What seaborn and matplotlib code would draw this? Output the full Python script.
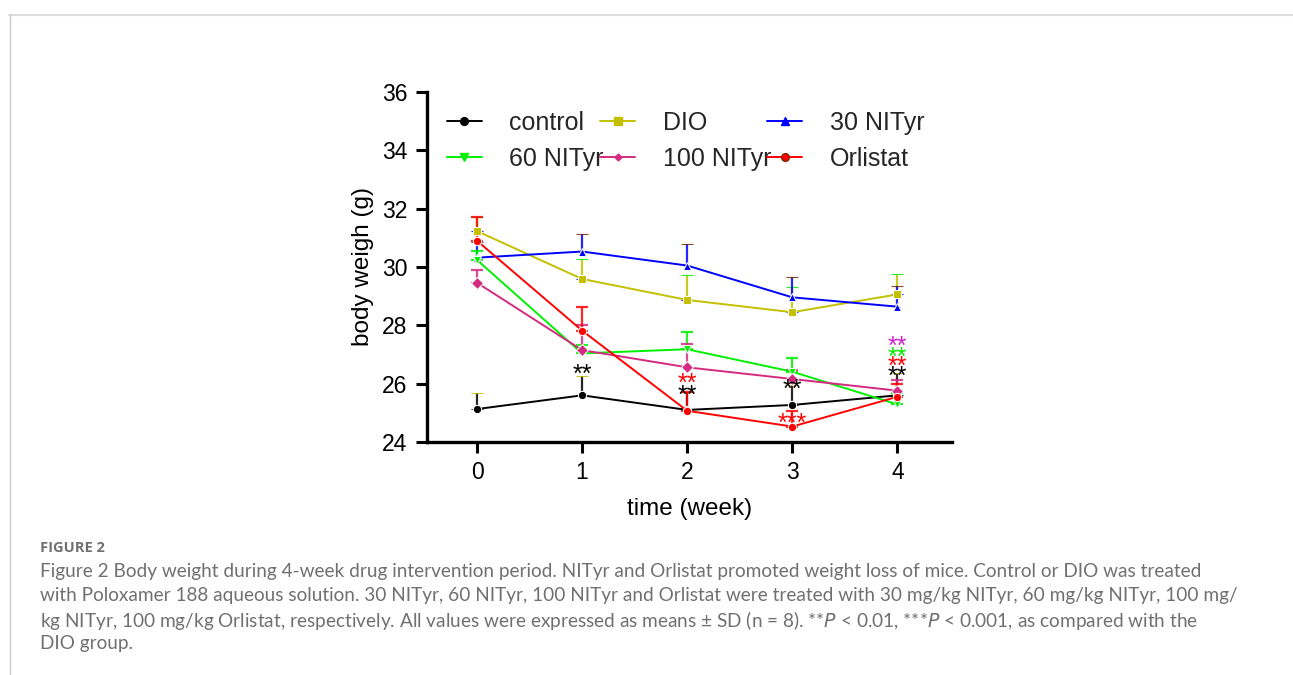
import numpy as np
import pandas as pd
import matplotlib
matplotlib.use("Agg")
import matplotlib.pyplot as plt
from matplotlib.lines import Line2D
import seaborn as sns

# ---------------- data ----------------
weeks = [0, 1, 2, 3, 4]
groups = ["control", "DIO", "30 NITyr", "60 NITyr", "100 NITyr", "Orlistat"]
control = [25.13, 25.60, 25.10, 25.27, 25.60]
dio = [31.23, 29.59, 28.87, 28.45, 29.06]
nityr30 = [30.32, 30.53, 30.05, 28.96, 28.64]
nityr60 = [30.24, 27.04, 27.18, 26.41, 25.29]
nityr100 = [29.46, 27.15, 26.56, 26.16, 25.76]
orlistat = [30.90, 27.82, 25.07, 24.53, 25.55]

sd_control = [0.55, 0.65, 0.60, 0.70, 0.75]
sd_dio = [0.47, 0.67, 0.85, 0.88, 0.69]
sd_30 = [0.55, 0.60, 0.74, 0.71, 0.72]
sd_60 = [0.30, 0.30, 0.58, 0.48, 0.40]
sd_100 = [0.44, 0.85, 0.80, 0.30, 0.35]
sd_orl = [0.80, 0.82, 0.65, 0.55, 0.45]

# significance annotations: (week, y, text, group colour key)
sig_week = [1, 2, 2, 3, 3, 4, 4, 4, 4]
sig_y = [26.30, 26.00, 25.57, 25.78, 24.63, 27.27, 26.90, 26.59, 26.25]
sig_text = ["**", "**", "**", "**", "***", "**", "**", "**", "**"]
sig_group = ["control", "Orlistat", "control", "control", "Orlistat",
             "sig100", "60 NITyr", "Orlistat", "control"]

colors = {
    "control": "#000000",
    "DIO": "#C4C000",
    "30 NITyr": "#0000FF",
    "60 NITyr": "#00F000",
    "100 NITyr": "#D42A80",
    "Orlistat": "#FF0000",
    "sig100": "#CC22CC",
}
markers = {"control": "o", "DIO": "s", "30 NITyr": "^", "60 NITyr": "v",
           "100 NITyr": "D", "Orlistat": "o"}
msizes = {"control": 8, "DIO": 9, "30 NITyr": 8, "60 NITyr": 8,
          "100 NITyr": 5, "Orlistat": 8}
means = dict(zip(groups, [control, dio, nityr30, nityr60, nityr100, orlistat]))
sds = dict(zip(groups, [sd_control, sd_dio, sd_30, sd_60, sd_100, sd_orl]))

rows = []
for g in groups:
    for w, m, s in zip(weeks, means[g], sds[g]):
        rows.append({"week": w, "weight": m, "sd": s, "group": g})
df = pd.DataFrame(rows)

# ---------------- figure ----------------
sns.set_theme(style="ticks")
plt.rcParams["font.family"] = ["Liberation Sans", "DejaVu Sans"]

fig = plt.figure(figsize=(12.93, 6.75), dpi=100)
ax = fig.add_axes([427 / 1293, 1 - 442 / 675, (952 - 427) / 1293, (442 - 92) / 675])

# error bars (upper only) first
for g in groups:
    sub = df[df.group == g]
    ax.errorbar(sub.week, sub.weight, yerr=[np.zeros(len(sub)), sub.sd],
                fmt="none", ecolor=colors[g], elinewidth=1.6, capsize=4,
                capthick=1.6, zorder=2, alpha=0.85)

sns.lineplot(data=df, x="week", y="weight", hue="group", style="group",
             hue_order=groups, style_order=groups,
             palette={g: colors[g] for g in groups},
             markers=markers, dashes=False, linewidth=1.4, legend=False,
             ax=ax, zorder=3)
for line, g in zip(ax.lines, groups):
    line.set_markersize(msizes[g])
    line.set_markeredgecolor(colors[g] if g != "Orlistat" else "#7a2a00")
    line.set_markeredgewidth(0.8)

for w, y, t, g in zip(sig_week, sig_y, sig_text, sig_group):
    ax.text(w, y, t, color=colors[g], fontsize=18, ha="center", va="center",
            zorder=5)

ax.set_xlim(-0.476, 4.52)
ax.set_ylim(24, 36)
ax.set_xticks(weeks)
ax.set_yticks([24, 26, 28, 30, 32, 34, 36])
ax.tick_params(axis="both", direction="out", length=8, width=2.2,
               labelsize=16.5, color="black", labelcolor="black", pad=6)
for sp in ["top", "right"]:
    ax.spines[sp].set_visible(False)
for sp in ["left", "bottom"]:
    ax.spines[sp].set_linewidth(2.4)
    ax.spines[sp].set_color("black")
ax.set_xlabel("time (week)", fontsize=17.5, color="black", labelpad=10)
ax.set_ylabel("body weigh (g)", fontsize=17.5, color="black", labelpad=6)

# legend (column-major order for ncol=3)
order = ["control", "60 NITyr", "DIO", "100 NITyr", "30 NITyr", "Orlistat"]
handles = [Line2D([0], [0], color=colors[g], marker=markers[g], lw=1.4,
                  markersize=msizes[g] * 0.7,
                  markeredgecolor=colors[g] if g != "Orlistat" else "#7a2a00")
           for g in order]
leg = ax.legend(handles, order, ncol=3, frameon=False, fontsize=18,
                loc="upper left", bbox_to_anchor=(0.038, 0.946),
                handlelength=1.4, handletextpad=1.1, columnspacing=-0.15,
                labelspacing=0.49, borderaxespad=0, borderpad=0)

# page frame
fig.add_artist(Line2D([9 / 1293, 1], [1 - 14.5 / 675] * 2, color="#dddddd", lw=1.5,
                      transform=fig.transFigure))
fig.add_artist(Line2D([9.5 / 1293] * 2, [0, 1 - 14.5 / 675], color="#cccccc", lw=1.0,
                      transform=fig.transFigure))

# caption
cap_color = "#707070"
fig.text(40 / 1293, 1 - 548 / 675, "FIGURE 2", fontsize=10.5, color=cap_color,
         fontweight="bold", va="center", family=["Open Sans", "DejaVu Sans"])
cap_lines = [
    "Figure 2 Body weight during 4-week drug intervention period. NITyr and Orlistat promoted weight loss of mice. Control or DIO was treated",
    "with Poloxamer 188 aqueous solution. 30 NITyr, 60 NITyr, 100 NITyr and Orlistat were treated with 30 mg/kg NITyr, 60 mg/kg NITyr, 100 mg/",
    "kg NITyr, 100 mg/kg Orlistat, respectively. All values were expressed as means \u00b1 SD (n = 8). **$P$ < 0.01, ***$P$ < 0.001, as compared with the",
    "DIO group.",
]
for i, s in enumerate(cap_lines):
    fig.text(40 / 1293, 1 - (572 + 24 * i) / 675, s, fontsize=13.65, color=cap_color,
             va="center", family=["Lato", "DejaVu Sans"])

fig.savefig("out.png", dpi=100)
